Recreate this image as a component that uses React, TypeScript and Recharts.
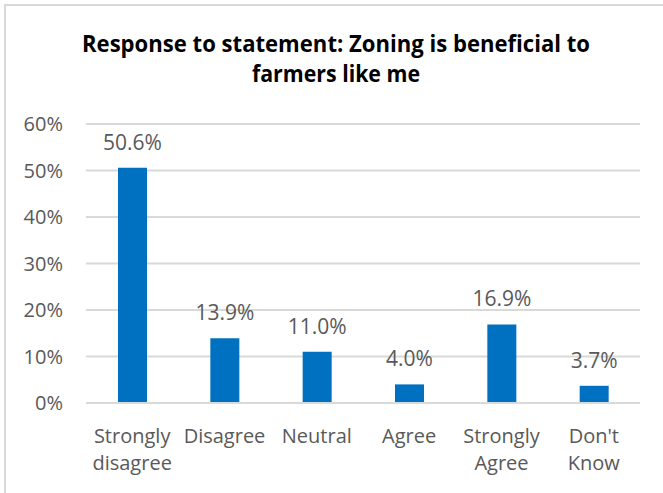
import React from "react";
import { BarChart, Bar, XAxis, YAxis, CartesianGrid, LabelList } from "recharts";

const categories = ["Strongly disagree", "Disagree", "Neutral", "Agree", "Strongly Agree", "Don't Know"];
const values = [50.6, 13.9, 11.0, 4.0, 16.9, 3.7];
const yTicks = [0, 10, 20, 30, 40, 50, 60];
const titleLines = ["Response to statement: Zoning is beneficial to", "farmers like me"];

const data = categories.map((c, i) => ({ category: c, value: values[i] }));

const FONT = "'Open Sans', sans-serif";
const GRAY = "#595959";

const CategoryTick = (props: any) => {
  const { x, y, payload } = props;
  const words = String(payload.value).split(" ");
  return (
    <text x={x} y={y} textAnchor="middle" fill={GRAY} fontSize={20} fontFamily={FONT}>
      {words.map((w, i) => (
        <tspan key={i} x={x} dy={i === 0 ? 40 : 27}>
          {w}
        </tspan>
      ))}
    </text>
  );
};

export default function App() {
  return (
    <div style={{ position: "absolute", left: 0, top: 0, width: 663, height: 493, background: "#fff", overflow: "hidden" }}>
      <BarChart
        width={663}
        height={493}
        data={data}
        margin={{ top: 124, right: 23, bottom: 0, left: 0 }}
      >
        <CartesianGrid vertical={false} stroke="#d9d9d9" strokeWidth={2} />
        <XAxis
          dataKey="category"
          height={90}
          axisLine={{ stroke: "#d9d9d9", strokeWidth: 2 }}
          tickLine={false}
          tickSize={0}
          tickMargin={0}
          interval={0}
          tick={<CategoryTick />}
        />
        <YAxis
          width={86}
          domain={[0, 60]}
          ticks={yTicks}
          axisLine={false}
          tickLine={false}
          tickSize={0}
          tickMargin={23}
          tickFormatter={(v: number) => `${v}%`}
          tick={{ fill: GRAY, fontSize: 20, fontFamily: FONT }}
        />
        <Bar dataKey="value" fill="#0070C0" barSize={29} isAnimationActive={false}>
          <LabelList
            dataKey="value"
            position="top"
            offset={18}
            fill={GRAY}
            fontSize={21}
            fontFamily={FONT}
            formatter={(v: any) => `${Number(v).toFixed(1)}%`}
          />
        </Bar>
      </BarChart>
      <svg width={663} height={493} style={{ position: "absolute", left: 0, top: 0, pointerEvents: "none" }}>
        <line x1={4} y1={5} x2={663} y2={5} stroke="#d9d9d9" strokeWidth={2} />
        <line x1={5} y1={4} x2={5} y2={493} stroke="#d9d9d9" strokeWidth={2} />
        <text x={336} y={52} textAnchor="middle" fontFamily={FONT} fontWeight="bold" fontSize={23} fill="#000" textLength={508} lengthAdjust="spacingAndGlyphs">
          {titleLines[0]}
        </text>
        <text x={336} y={82} textAnchor="middle" fontFamily={FONT} fontWeight="bold" fontSize={23} fill="#000" textLength={168} lengthAdjust="spacingAndGlyphs">
          {titleLines[1]}
        </text>
      </svg>
    </div>
  );
}
